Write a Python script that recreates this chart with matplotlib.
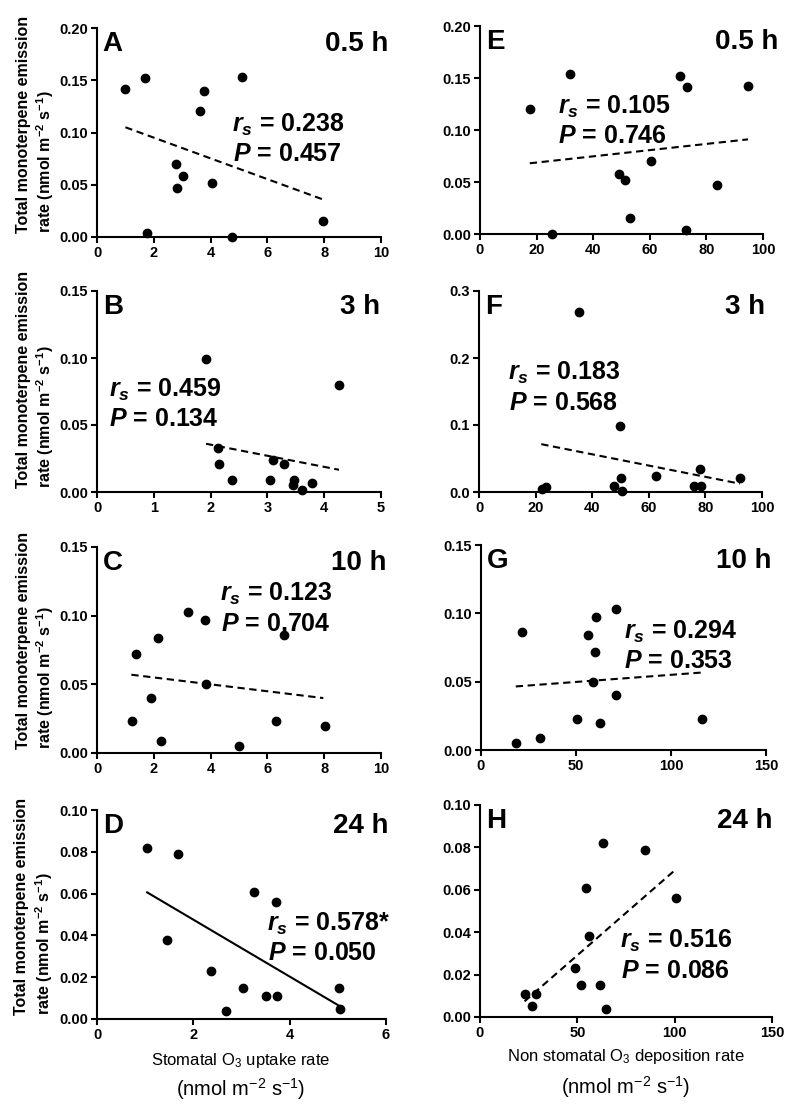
import matplotlib
matplotlib.use("Agg")
import matplotlib.pyplot as plt

plt.rcParams["font.family"] = ["Liberation Sans", "DejaVu Sans"]
plt.rcParams["mathtext.fontset"] = "custom"
plt.rcParams["mathtext.rm"] = "Liberation Sans"
plt.rcParams["mathtext.it"] = "Liberation Sans:italic"
plt.rcParams["mathtext.bf"] = "Liberation Sans:bold"
plt.rcParams["mathtext.bfit"] = "Liberation Sans:italic:bold"

# ---- data ----
letters = ["A", "B", "C", "D", "E", "F", "G", "H"]
times = ["0.5 h", "3 h", "10 h", "24 h", "0.5 h", "3 h", "10 h", "24 h"]
rs_vals = ["0.238", "0.459", "0.123", "0.578*", "0.105", "0.183", "0.294", "0.516"]
p_vals = ["0.457", "0.134", "0.704", "0.050", "0.746", "0.568", "0.353", "0.086"]

# stomatal O3 uptake (left column)
A_x = [1.0, 1.68, 1.76, 2.79, 2.80, 3.02, 3.63, 3.76, 4.04, 4.74, 5.09, 7.97]
A_y = [0.142, 0.152, 0.004, 0.070, 0.047, 0.058, 0.121, 0.140, 0.052, 0.000, 0.153, 0.015]
A_fit = ([1.0, 7.95], [0.105, 0.036])

B_x = [1.92, 4.26, 2.13, 2.15, 2.37, 3.05, 3.10, 3.29, 3.46, 3.45, 3.61, 3.78]
B_y = [0.099, 0.080, 0.033, 0.021, 0.009, 0.009, 0.024, 0.021, 0.009, 0.005, 0.0015, 0.007]
B_fit = ([1.92, 4.26], [0.036, 0.0166])

C_x = [1.23, 1.38, 1.89, 2.16, 2.24, 3.22, 3.80, 3.85, 5.0, 6.32, 6.59, 8.02]
C_y = [0.023, 0.072, 0.040, 0.084, 0.009, 0.103, 0.097, 0.050, 0.005, 0.023, 0.086, 0.020]
C_fit = ([1.21, 7.97], [0.057, 0.040])

D_x = [1.04, 1.68, 1.46, 2.37, 2.68, 3.04, 3.25, 3.50, 3.71, 3.74, 5.03, 5.04]
D_y = [0.082, 0.079, 0.038, 0.023, 0.004, 0.015, 0.061, 0.011, 0.056, 0.011, 0.015, 0.005]
D_fit = ([1.04, 5.08], [0.0606, 0.0056])

# non stomatal O3 deposition (right column)
E_x = [17.8, 25.3, 31.8, 49.1, 51.2, 53.1, 60.4, 70.8, 73.3, 72.8, 83.8, 94.7]
E_y = [0.120, 0.000, 0.154, 0.058, 0.052, 0.015, 0.070, 0.152, 0.141, 0.004, 0.047, 0.142]
E_fit = ([17.6, 94.7], [0.068, 0.091])

F_x = [35.2, 49.9, 22.3, 23.8, 47.6, 50.2, 50.4, 62.6, 75.8, 78.4, 78.0, 92.2]
F_y = [0.269, 0.099, 0.005, 0.007, 0.009, 0.021, 0.002, 0.024, 0.009, 0.009, 0.034, 0.021]
F_fit = ([22.0, 92.2], [0.0714, 0.0124])

G_x = [18.3, 21.6, 31.1, 50.6, 56.2, 60.6, 60.2, 59.2, 62.5, 71.3, 71.1, 116.1]
G_y = [0.005, 0.086, 0.009, 0.023, 0.084, 0.097, 0.072, 0.050, 0.020, 0.103, 0.040, 0.023]
G_fit = ([18.3, 116.3], [0.0465, 0.0567])

H_x = [22.9, 26.5, 28.7, 48.6, 52.0, 54.2, 55.8, 61.7, 63.3, 64.5, 84.8, 100.7]
H_y = [0.011, 0.005, 0.011, 0.023, 0.015, 0.061, 0.038, 0.015, 0.082, 0.004, 0.079, 0.056]
H_fit = ([22.9, 100.2], [0.0074, 0.0693])

xs = [A_x, B_x, C_x, D_x, E_x, F_x, G_x, H_x]
ys = [A_y, B_y, C_y, D_y, E_y, F_y, G_y, H_y]
fits = [A_fit, B_fit, C_fit, D_fit, E_fit, F_fit, G_fit, H_fit]

xlims = [(0, 10, 2), (0, 5, 1), (0, 10, 2), (0, 6, 2),
         (0, 100, 20), (0, 100, 20), (0, 150, 50), (0, 150, 50)]
ylims = [(0.20, 0.05), (0.15, 0.05), (0.15, 0.05), (0.10, 0.02),
         (0.20, 0.05), (0.3, 0.1), (0.15, 0.05), (0.10, 0.02)]
yfmt = ["%.2f", "%.2f", "%.2f", "%.2f", "%.2f", "%.1f", "%.2f", "%.2f"]

# ---- layout (pixels: left, right, top, bottom) ----
W, Hh = 800, 1117
boxes = [(97, 381, 28, 237), (97, 381, 291, 492), (97, 381, 547, 753), (97, 386, 810, 1019),
         (480, 763, 26, 234), (479, 762, 291, 492), (481, 766, 545, 750), (480, 772, 805, 1017)]
stat_pos = [(0.475, 0.60), (0.041, 0.575), (0.434, 0.835), (0.588, 0.52),
            (0.274, 0.676), (0.104, 0.656), (0.50, 0.64), (0.479, 0.42)]
time_x = [1.026, 0.996, 1.02, 1.009, 1.053, 1.012, 1.018, 1.003]

fig = plt.figure(figsize=(W / 100, Hh / 100), dpi=100)

for i in range(8):
    l, r, t, b = boxes[i]
    ax = fig.add_axes([l / W, 1 - b / Hh, (r - l) / W, (b - t) / Hh])
    for s in ["top", "right"]:
        ax.spines[s].set_visible(False)
    for s in ["left", "bottom"]:
        ax.spines[s].set_linewidth(1.5)

    ax.plot(xs[i], ys[i], "o", color="black", ms=6, clip_on=False, zorder=3)
    fx, fy = fits[i]
    ls = "-" if i == 3 else (0, (3.5, 2.2))
    ax.plot(fx, fy, color="black", lw=1.5, linestyle=ls)

    x0, x1, xs_ = xlims[i]
    ymax, ystep = ylims[i]
    ax.set_xlim(x0, x1)
    ax.set_ylim(0, ymax)
    ax.set_xticks([x0 + k * xs_ for k in range(int(round((x1 - x0) / xs_)) + 1)])
    ny = int(round(ymax / ystep)) + 1
    ax.set_yticks([k * ystep for k in range(ny)])
    ax.set_yticklabels([yfmt[i] % (k * ystep) for k in range(ny)])
    ax.tick_params(direction="out", length=4.5, width=1.5, labelsize=10.5, pad=2)
    for lab in ax.get_xticklabels() + ax.get_yticklabels():
        lab.set_fontweight("bold")

    ax.text(0.02, 0.985, letters[i], transform=ax.transAxes, fontsize=20,
            fontweight="bold", va="top", ha="left")
    ax.text(time_x[i], 0.985, times[i], transform=ax.transAxes, fontsize=20,
            fontweight="bold", va="top", ha="right")

    sp = stat_pos[i]
    ax.annotate(r"$\mathbfit{r}_{\mathbfit{s}}$ = " + rs_vals[i], xy=sp,
                xycoords="axes fraction", fontsize=18, fontweight="bold",
                va="top", ha="left")
    ax.annotate(r"$\mathbfit{P}$ = " + p_vals[i], xy=sp, xycoords="axes fraction",
                xytext=(0.5, -22), textcoords="offset points", fontsize=18,
                fontweight="bold", va="top", ha="left")

    if i < 4:
        ax.text(-0.215, 0.02,
                "Total monoterpene emission\n"
                r"rate (nmol m$^{\mathbf{-2}}$ s$^{\mathbf{-1}}$)",
                transform=ax.transAxes, rotation=90, fontsize=11.5, fontweight="bold",
                va="bottom", ha="center", multialignment="left", linespacing=1.25)

# x axis titles
fig.text(241 / W, 1 - 1060 / Hh, r"Stomatal O$_3$ uptake rate", fontsize=12,
         ha="center", va="center")
fig.text(241 / W, 1 - 1089 / Hh, r"(nmol m$^{-2}$ s$^{-1}$)", fontsize=14.5,
         ha="center", va="center")
fig.text(626 / W, 1 - 1057 / Hh, r"Non stomatal O$_3$ deposition rate", fontsize=12,
         ha="center", va="center")
fig.text(626 / W, 1 - 1087 / Hh, r"(nmol m$^{-2}$ s$^{-1}$)", fontsize=14.5,
         ha="center", va="center")

fig.savefig("out.png", dpi=100)
